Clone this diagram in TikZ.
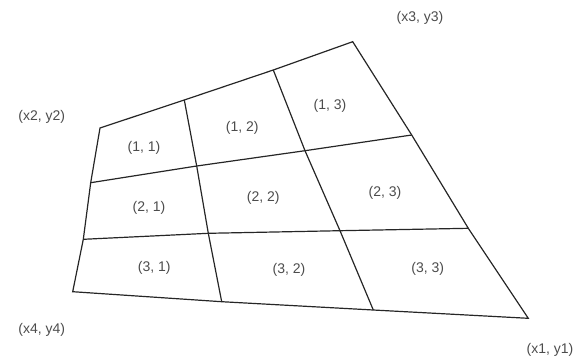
\documentclass[tikz,border=0pt]{standalone}
\usepackage{fontspec}
\setmainfont{Liberation Sans}
\begin{document}
\begin{tikzpicture}[x=1pt,y=-1pt,
  gridline/.style={draw=black!85,line width=1.2pt,line join=miter},
  lbl/.style={text=black!70,font=\fontsize{14}{16}\selectfont,inner sep=0pt}]
\useasboundingbox (0,0) rectangle (586,362);
% grid points a(row)(col)
\coordinate (a00) at (100,128);
\coordinate (a01) at (184.3,100);
\coordinate (a02) at (273.3,70);
\coordinate (a03) at (352.7,41.7);
\coordinate (a10) at (90.7,182.7);
\coordinate (a11) at (196.7,166);
\coordinate (a12) at (305,150.7);
\coordinate (a13) at (411.7,135);
\coordinate (a20) at (83.3,239.3);
\coordinate (a21) at (208.3,233.3);
\coordinate (a22) at (340,230.7);
\coordinate (a23) at (468.3,228.3);
\coordinate (a30) at (72.7,291.7);
\coordinate (a31) at (221.7,301.7);
\coordinate (a32) at (373.3,310);
\coordinate (a33) at (528.3,318.3);
% outline
\draw[gridline] (a00) -- (a01) -- (a02) -- (a03) -- (a13) -- (a23) -- (a33) -- (a32) -- (a31) -- (a30) -- (a20) -- (a10) -- cycle;
% inner lines
\draw[gridline] (a10) -- (a11) -- (a12) -- (a13);
\draw[gridline] (a20) -- (a21) -- (a22) -- (a23);
\draw[gridline] (a01) -- (a11) -- (a21) -- (a31);
\draw[gridline] (a02) -- (a12) -- (a22) -- (a32);
% corner labels
\node[lbl] (c2) at (41.7,116.7) {(x2, y2)};
\node[lbl] (c3) at (420,18.3) {(x3, y3)};
\node[lbl] (c4) at (41.7,330) {(x4, y4)};
\node[lbl] (c1) at (550,350) {(x1, y1)};
% cell labels
\node[lbl] (l11) at (144,148.3) {(1, 1)};
\node[lbl] (l12) at (242.3,127.7) {(1, 2)};
\node[lbl] (l13) at (330,106) {(1, 3)};
\node[lbl] (l21) at (149,208.3) {(2, 1)};
\node[lbl] (l22) at (263.3,198.3) {(2, 2)};
\node[lbl] (l23) at (385,193.3) {(2, 3)};
\node[lbl] (l31) at (154.3,268.3) {(3, 1)};
\node[lbl] (l32) at (289,270) {(3, 2)};
\node[lbl] (l33) at (427.7,269.3) {(3, 3)};
\end{tikzpicture}
\end{document}
